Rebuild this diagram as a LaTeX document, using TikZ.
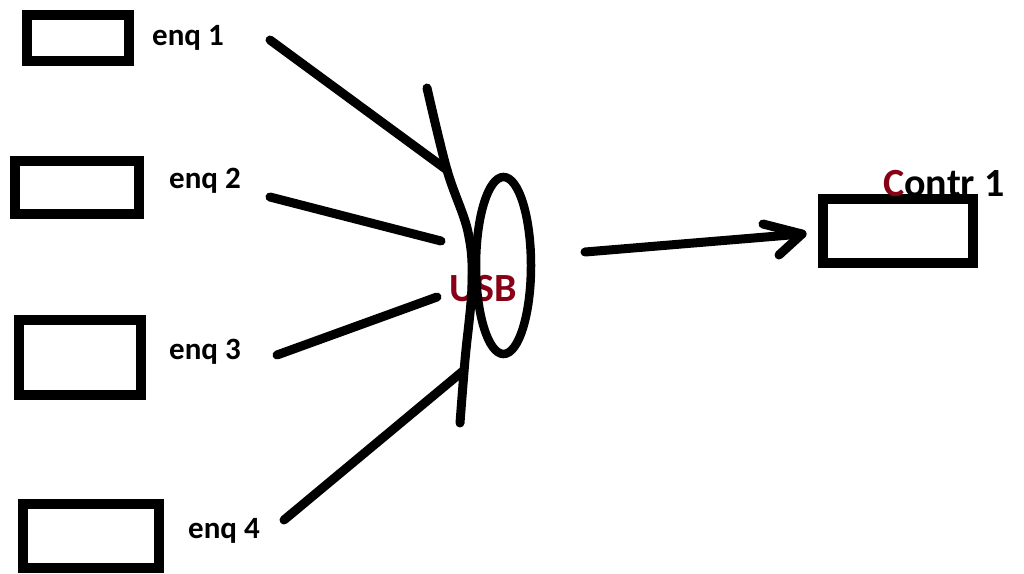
\documentclass[tikz,border=0pt]{standalone}
\usepackage{fontspec}
\setmainfont{Carlito}
\definecolor{burgundy}{HTML}{880015}
\tikzset{
  pen/.style={line width=9pt, line cap=round, line join=round},
  device/.style={draw, line width=9.5pt, inner sep=0pt, outer sep=0pt},
  tag/.style={font=\bfseries\fontsize{31}{31}\selectfont, inner sep=0pt},
  bigtag/.style={font=\bfseries\fontsize{40}{40}\selectfont, inner sep=0pt},
}
\begin{document}
\begin{tikzpicture}[x=1pt, y=-1pt]
  \useasboundingbox (0,0) rectangle (1024,573);

  % devices on the left
  \node[device, minimum width=102pt, minimum height=46pt] (box1) at (78,38) {};
  \node[device, minimum width=124pt, minimum height=53pt] (box2) at (77,187.5) {};
  \node[device, minimum width=122pt, minimum height=75pt] (box3) at (80,357.5) {};
  \node[device, minimum width=136pt, minimum height=64pt] (box4) at (91,536) {};

  % controller on the right
  \node[device, minimum width=150pt, minimum height=64pt] (ctrl) at (898,231) {};

  % labels
  \node[tag] (l1) at (188,38) {enq 1};
  \node[tag] (l2) at (205,181) {enq 2};
  \node[tag] (l3) at (205,352) {enq 3};
  \node[tag] (l4) at (224,531) {enq 4};
  \node[bigtag, text=burgundy] (usb) at (483,289) {USB};
  \node[bigtag, anchor=base west] (ctrllabel) at (883,196) {\textcolor{burgundy}{C}ontr 1};

  % hub stroke
  \coordinate (h0) at (427,88);
  \coordinate (h1) at (447,170);
  \coordinate (h2) at (468,232);
  \coordinate (h3) at (472,285);
  \coordinate (h4) at (465,360);
  \coordinate (h5) at (460,423);
  \draw[pen] plot[smooth, tension=0.6] coordinates {(h0) (h1) (h2) (h3) (h4) (h5)};

  % USB ellipse
  \draw[line width=8.5pt] (503.5,265.5) ellipse [x radius=27.5pt, y radius=88.5pt];

  % wires from the devices to the hub
  \coordinate (w1a) at (270,40);  \coordinate (w1b) at (447,170);
  \coordinate (w2a) at (270,197); \coordinate (w2b) at (441,241);
  \coordinate (w3a) at (277,355); \coordinate (w3b) at (437,297);
  \coordinate (w4a) at (284,520); \coordinate (w4b) at (463,371);
  \draw[pen] (w1a) -- (w1b);
  \draw[pen] (w2a) -- (w2b);
  \draw[pen] (w3a) -- (w3b);
  \draw[pen] (w4a) -- (w4b);

  % arrow to the controller
  \coordinate (ar0) at (585,252);
  \coordinate (ar1) at (802,234);
  \coordinate (barbup) at (763,224);
  \coordinate (barbdn) at (779,255);
  \draw[pen] (ar0) -- (ar1);
  \draw[pen] (barbup) -- (ar1) -- (barbdn);
\end{tikzpicture}
\end{document}
